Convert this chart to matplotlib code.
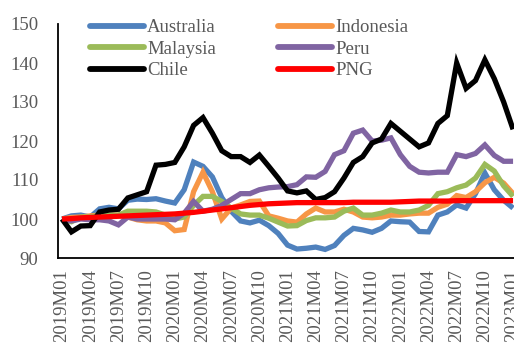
import matplotlib
matplotlib.use("Agg")
import matplotlib.pyplot as plt

# monthly index values, 2019M01 = 100
years = [2019, 2020, 2021, 2022, 2023]
months = [f"{y}M{m:02d}" for y in years for m in range(1, 13)][:49]

australia = [100, 100.8, 101, 100.5, 102.6, 103, 102.6, 104.8, 105.1, 105, 105.2, 104.6, 104.1,
             107.5, 114.6, 113.5, 110.8, 105.5, 102, 99.5, 99, 99.7, 98.3, 96.3,
             93.3, 92.3, 92.5, 92.8, 92.2, 93.2, 95.8, 97.6, 97.2, 96.6, 97.6, 99.5,
             99.3, 99.2, 96.8, 96.7, 101, 101.8, 103.6, 102.8, 106.5, 111.8, 107.5, 104.8, 102.8]
indonesia = [100, 100.4, 100.5, 100.8, 101, 101, 101, 100.5, 99.8, 99.5, 99.5, 99, 97,
             97.3, 107, 112, 107, 100, 102.8, 103.6, 104.5, 104.6, 100.8, 100.2,
             99.5, 99.2, 101.3, 102.8, 101.8, 101.8, 102.5, 101.8, 100.5, 100.3, 100.5, 101,
             101, 101.3, 101.5, 101.5, 103, 103.8, 106, 105.5, 107, 109.3, 110.7, 109.2, 106.5]
malaysia = [100, 99.3, 100.5, 100.5, 101, 101, 101, 102, 102, 102, 101.8, 101, 100,
            100.5, 103.5, 105.8, 105.8, 104.5, 102.8, 101.3, 101, 101, 100.2, 99.2,
            98.2, 98.3, 99.6, 100.3, 100.3, 100.5, 102, 102.8, 101, 101, 101.5, 102.3,
            101.8, 101.8, 102.3, 103.5, 106.5, 107, 108, 108.7, 110.5, 114, 112.3, 108.5, 105.8]
peru = [100, 99.5, 100, 99.8, 99.8, 99.5, 98.5, 100.5, 100, 100, 100, 100, 99.8,
        101.5, 104.5, 102, 102.5, 103.5, 105, 106.5, 106.5, 107.5, 108, 108.2,
        108.3, 108.8, 110.8, 110.7, 112.2, 116.5, 117.5, 122, 122.8, 120, 120.2, 120.8,
        116.5, 113.5, 112, 111.8, 112, 112, 116.5, 116, 116.8, 119, 116.3, 114.8, 114.8]
chile = [100, 96.7, 98.2, 98.3, 101.8, 102.3, 102.5, 105.4, 106.2, 107, 113.8, 114, 114.5,
         118.5, 124, 126, 122, 117.5, 116, 116, 114.5, 116.4, 113.5, 110.5,
         107.2, 106.7, 107.2, 105, 105.5, 107, 110.5, 114.5, 116, 119.5, 120.5, 124.5,
         122.5, 120.5, 118.5, 119.5, 124.5, 126.5, 140, 133.5, 135.5, 140.8, 136, 130, 123]
png = [100, 100.1, 100.3, 100.4, 100.5, 100.6, 100.7, 100.8, 100.9, 101, 101.1, 101.2, 101.3,
       101.5, 101.7, 102, 102.3, 102.6, 102.9, 103.2, 103.5, 103.7, 103.9, 104,
       104.1, 104.2, 104.2, 104.2, 104.2, 104.2, 104.2, 104.3, 104.3, 104.3, 104.3, 104.3,
       104.4, 104.5, 104.6, 104.6, 104.6, 104.6, 104.7, 104.7, 104.7, 104.7, 104.7, 104.7, 104.7]

series = [
    ("Australia", australia, "#4f81bd"),
    ("Indonesia", indonesia, "#f79646"),
    ("Malaysia", malaysia, "#9bbb59"),
    ("Peru", peru, "#8064a2"),
    ("Chile", chile, "#000000"),
    ("PNG", png, "#ff0000"),
]

TEXT = "#595959"
plt.rcParams["font.family"] = ["Liberation Serif", "DejaVu Serif"]
plt.rcParams["font.size"] = 13.5

fig = plt.figure(figsize=(5.14, 3.48), dpi=100)
ax = fig.add_axes([58 / 514, 90 / 348, 456 / 514, 234 / 348])

x = list(range(len(months)))
handles = {}
for name, vals, color in series:
    (ln,) = ax.plot(x, vals, color=color, lw=3.8, solid_joinstyle="miter",
                    solid_capstyle="butt", label=name)
    handles[name] = ln

ax.set_xlim(-0.43, 48.1)
ax.set_ylim(90, 150)
ax.set_yticks(range(90, 151, 10))
ax.set_xticks(x[::3])
ax.set_xticklabels(months[::3], rotation=90)
ax.tick_params(axis="y", length=0, pad=14, colors=TEXT, labelsize=13.5)
ax.tick_params(axis="x", length=0, pad=8, colors=TEXT, labelsize=13.5)
for side in ("top", "right"):
    ax.spines[side].set_visible(False)
for side in ("left", "bottom"):
    ax.spines[side].set_color("#000000")
    ax.spines[side].set_linewidth(1.3)

# legend fills column-wise, so order the handles to read across rows
order = ["Australia", "Malaysia", "Chile", "Indonesia", "Peru", "PNG"]
leg = fig.legend([handles[n] for n in order], order, ncol=2, frameon=False,
                 loc="upper left", bbox_to_anchor=(90 / 514, 1 - 19 / 348),
                 borderpad=0, borderaxespad=0, handlelength=2.9, handletextpad=0.15,
                 columnspacing=3.3, labelspacing=0.24, fontsize=13.5, labelcolor=TEXT)
for ln in leg.get_lines():
    ln.set_linewidth(4.2)
    ln.set_solid_capstyle("round")

fig.savefig("out.png", dpi=100)
